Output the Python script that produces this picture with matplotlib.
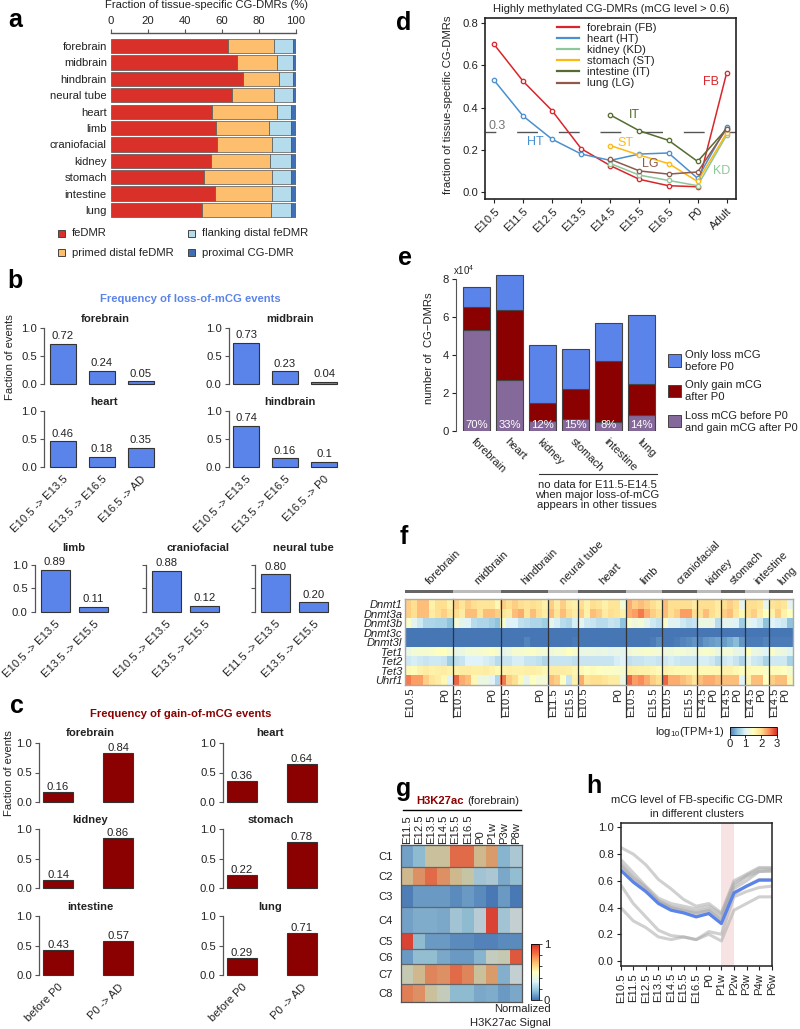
#!/usr/bin/env python3
import numpy as np
import matplotlib
matplotlib.use('Agg')
import matplotlib.pyplot as plt
from matplotlib.cm import ScalarMappable
from matplotlib.colors import LinearSegmentedColormap, Normalize
from matplotlib.patches import Rectangle
from matplotlib.transforms import blended_transform_factory

FS = 8.1
plt.rcParams['font.family'] = ['Liberation Sans', 'DejaVu Sans']
plt.rcParams['font.size'] = FS
plt.rcParams['mathtext.default'] = 'regular'
plt.rcParams['text.color'] = '#222222'
plt.rcParams['axes.labelcolor'] = '#222222'
plt.rcParams['xtick.color'] = '#222222'
plt.rcParams['ytick.color'] = '#222222'

W, H = 800, 1029
BLUE = '#5b84ea'
DARKRED = '#8b0000'
SPINE = '#555555'

# ---- panel a
a_tissues = ['forebrain', 'midbrain', 'hindbrain', 'neural tube', 'heart', 'limb',
             'craniofacial', 'kidney', 'stomach', 'intestine', 'lung']
a_fedmr = [63.3, 68.5, 71.8, 65.5, 54.8, 56.8, 57.3, 54.0, 50.5, 56.2, 49.4]
a_primed = [25.1, 21.4, 19.0, 23.1, 35.4, 29.1, 30.0, 32.3, 36.8, 31.3, 37.4]
a_flank = [10.0, 8.5, 7.6, 9.8, 7.3, 11.7, 10.5, 11.0, 10.2, 9.8, 10.5]
a_prox = [1.6, 1.6, 1.6, 1.6, 2.5, 2.4, 2.2, 2.7, 2.5, 2.7, 2.7]

# ---- panel b
b_fb = ['0.72', '0.24', '0.05']
b_mb = ['0.73', '0.23', '0.04']
b_ht = ['0.46', '0.18', '0.35']
b_hb = ['0.74', '0.16', '0.1']
b_limb = ['0.89', '0.11']
b_cf = ['0.88', '0.12']
b_nt = ['0.80', '0.20']
b_ht_ticks = ['E10.5 -> E13.5', 'E13.5 -> E16.5', 'E16.5 -> AD']
b_hb_ticks = ['E10.5 -> E13.5', 'E13.5 -> E16.5', 'E16.5 -> P0']
b_limb_ticks = ['E10.5 -> E13.5', 'E13.5 -> E15.5']
b_nt_ticks = ['E11.5 -> E13.5', 'E13.5 -> E15.5']

# ---- panel c
c_fb = ['0.16', '0.84']
c_ht = ['0.36', '0.64']
c_kd = ['0.14', '0.86']
c_st = ['0.22', '0.78']
c_it = ['0.43', '0.57']
c_lg = ['0.29', '0.71']
c_ticks = ['before P0', 'P0 -> AD']

# ---- panel d
d_stages = ['E10.5', 'E11.5', 'E12.5', 'E13.5', 'E14.5', 'E15.5', 'E16.5', 'P0', 'Adult']
d_idx_all = [0, 1, 2, 3, 4, 5, 6, 7, 8]
d_idx_late = [4, 5, 6, 7, 8]
d_fb = [0.70, 0.525, 0.385, 0.205, 0.125, 0.06, 0.03, 0.025, 0.565]
d_ht = [0.53, 0.36, 0.25, 0.18, 0.15, 0.18, 0.185, 0.065, 0.31]
d_kd = [0.135, 0.08, 0.055, 0.03, 0.27]
d_st = [0.22, 0.175, 0.135, 0.05, 0.28]
d_it = [0.365, 0.29, 0.245, 0.145, 0.30]
d_lg = [0.155, 0.10, 0.085, 0.095, 0.30]

# ---- panel e
e_tissues = ['forebrain', 'heart', 'kidney', 'stomach', 'intestine', 'lung']
e_both = [5.3, 2.7, 0.55, 0.65, 0.47, 0.85]
e_gain = [1.25, 3.7, 0.95, 1.55, 3.2, 1.62]
e_loss = [1.03, 1.85, 3.05, 2.15, 2.0, 3.63]
e_pct = ['70%', '33%', '12%', '15%', '8%', '14%']

# ---- panel f
f_genes = ['Dnmt1', 'Dnmt3a', 'Dnmt3b', 'Dnmt3c', 'Dnmt3l', 'Tet1', 'Tet2', 'Tet3', 'Uhrf1']
f_groups = ['forebrain', 'midbrain', 'hindbrain', 'neural tube', 'heart', 'limb',
            'craniofacial', 'kidney', 'stomach', 'intestine', 'lung']
f_counts = [8, 8, 8, 5, 8, 6, 6, 4, 4, 4, 4]
f_first = ['E10.5', 'E10.5', 'E10.5', 'E11.5', 'E10.5', 'E10.5', 'E10.5', 'E14.5', 'E14.5', 'E14.5', 'E14.5']
f_last = ['P0', 'P0', 'P0', 'E15.5', 'P0', 'E15.5', 'E15.5', 'P0', 'P0', 'P0', 'P0']
dnmt1 = [2.1, 2.0, 2.2, 2.2, 1.7, 2.0, 2.0, 1.7, 2.1, 1.9, 2.1, 2.0, 1.9, 1.9, 1.9, 1.6,
         2.1, 2.0, 2.1, 2.0, 1.9, 2.0, 1.9, 1.7, 2.1, 1.8, 2.1, 1.8, 1.7,
         2.0, 1.7, 2.0, 1.9, 1.7, 1.9, 1.9, 1.3, 2.3, 2.1, 2.2, 2.1, 2.0, 1.8,
         2.2, 2.0, 2.0, 2.0, 2.0, 1.8, 2.0, 2.0, 2.0, 1.8, 2.0, 2.1, 2.0, 1.1,
         2.0, 2.0, 1.9, 1.1, 1.9, 2.0, 1.9, 1.1]
dnmt3a = [2.1, 2.0, 2.2, 2.2, 1.8, 2.0, 2.1, 1.9, 2.0, 1.8, 2.2, 2.2, 1.9, 2.2, 2.2, 2.1,
          1.9, 1.8, 2.2, 2.3, 1.9, 2.2, 2.0, 1.8, 2.2, 1.9, 2.2, 2.0, 1.8,
          2.1, 1.7, 2.2, 2.1, 1.8, 2.0, 1.9, 1.7, 2.3, 2.4, 2.6, 2.3, 2.1, 2.0,
          2.2, 2.0, 2.1, 2.4, 2.4, 2.0, 2.0, 2.2, 2.0, 1.8, 2.1, 2.2, 1.9, 1.6,
          2.0, 2.1, 1.8, 1.5, 1.7, 2.1, 1.7, 1.5]
dnmt3b = [1.4, 1.1, 0.9, 0.7, 0.7, 0.65, 0.65, 0.5, 1.3, 1.1, 1.0, 0.75, 0.7, 0.7, 0.6, 0.5,
          1.4, 1.0, 1.0, 0.8, 0.75, 0.7, 0.7, 0.6, 1.1, 0.95, 0.75, 0.7, 0.95,
          1.1, 0.9, 0.85, 0.75, 0.75, 0.85, 0.8, 0.5, 1.4, 1.25, 1.3, 1.1, 0.9, 0.8,
          1.4, 1.05, 1.05, 0.9, 0.8, 0.85, 1.2, 1.2, 1.15, 0.75, 1.1, 1.1, 1.0, 0.6,
          1.1, 1.0, 0.9, 0.5, 1.0, 0.95, 0.9, 0.5]
dnmt3c = [0.02, 0.02, 0.02, 0.02, 0.02, 0.02, 0.02, 0.02, 0.02, 0.02, 0.02, 0.02, 0.02, 0.02, 0.02, 0.02,
          0.02, 0.02, 0.02, 0.02, 0.02, 0.02, 0.02, 0.02, 0.02, 0.02, 0.02, 0.02, 0.02,
          0.02, 0.02, 0.02, 0.02, 0.02, 0.02, 0.02, 0.02, 0.02, 0.02, 0.02, 0.02, 0.02, 0.02,
          0.02, 0.02, 0.02, 0.02, 0.02, 0.02, 0.02, 0.02, 0.02, 0.02, 0.02, 0.02, 0.02, 0.02,
          0.02, 0.02, 0.02, 0.02, 0.02, 0.02, 0.02, 0.02]
dnmt3l = [0.02, 0.02, 0.02, 0.02, 0.02, 0.02, 0.02, 0.02, 0.02, 0.02, 0.02, 0.02, 0.02, 0.02, 0.02, 0.02,
          0.02, 0.02, 0.02, 0.02, 0.1, 0.02, 0.02, 0.02, 0.02, 0.02, 0.02, 0.02, 0.05,
          0.02, 0.02, 0.02, 0.02, 0.02, 0.02, 0.02, 0.02, 0.02, 0.02, 0.02, 0.02, 0.05, 0.15,
          0.02, 0.02, 0.05, 0.1, 0.15, 0.2, 0.1, 0.2, 0.25, 0.3, 0.25, 0.35, 0.45, 0.2,
          0.05, 0.05, 0.05, 0.1, 0.05, 0.05, 0.05, 0.05]
tet1 = [1.2, 1.3, 1.35, 1.35, 1.4, 1.5, 1.5, 1.35, 1.15, 1.2, 1.3, 1.3, 1.35, 1.4, 1.45, 1.35,
        1.1, 1.2, 1.35, 1.35, 1.4, 1.45, 1.35, 1.3, 1.25, 1.3, 1.35, 1.5, 1.4,
        1.15, 1.2, 1.2, 1.15, 1.2, 1.1, 1.15, 1.1, 1.25, 1.3, 1.35, 1.4, 1.35, 1.3,
        1.25, 1.25, 1.3, 1.3, 1.25, 1.2, 1.35, 1.4, 1.35, 1.2, 1.3, 1.3, 1.15, 1.1,
        1.5, 1.2, 1.15, 1.0, 1.4, 1.25, 1.2, 1.05]
tet2 = [0.9, 0.95, 0.9, 0.85, 0.9, 0.9, 0.85, 0.6, 0.8, 0.85, 1.0, 1.0, 1.0, 0.95, 0.9, 0.75,
        0.85, 0.85, 0.95, 0.95, 0.85, 0.85, 0.8, 0.7, 0.85, 0.85, 0.85, 0.85, 0.8,
        0.85, 0.85, 0.85, 0.85, 0.85, 0.85, 0.95, 1.0, 0.8, 0.85, 0.85, 0.9, 0.9, 0.85,
        0.9, 0.95, 0.9, 0.85, 0.85, 0.85, 0.95, 0.95, 0.9, 0.75, 0.9, 0.95, 0.85, 0.7,
        1.1, 0.9, 0.85, 0.65, 0.9, 0.9, 0.9, 0.65]
tet3 = [1.6, 1.55, 1.7, 1.8, 1.7, 1.75, 1.8, 1.7, 1.75, 1.8, 1.8, 1.75, 1.75, 1.8, 1.7, 1.6,
        1.7, 1.75, 1.7, 1.7, 1.75, 1.75, 1.7, 1.6, 1.8, 1.8, 1.8, 1.75, 1.65,
        1.6, 1.5, 1.55, 1.5, 1.45, 1.45, 1.4, 1.35, 1.8, 1.75, 1.7, 1.7, 1.65, 1.55,
        1.7, 1.65, 1.6, 1.6, 1.6, 1.6, 1.6, 1.6, 1.6, 1.6, 1.7, 1.7, 1.6, 1.5,
        1.6, 1.55, 1.55, 1.4, 1.55, 1.55, 1.5, 1.35]
uhrf1 = [2.6, 2.4, 2.4, 2.1, 1.9, 1.8, 1.6, 1.0, 2.7, 2.3, 2.2, 1.6, 1.2, 1.2, 1.0, 0.7,
         2.6, 2.1, 2.0, 1.6, 1.1, 1.5, 1.3, 1.3, 2.2, 2.1, 1.5, 0.85, 1.7,
         2.3, 1.9, 2.0, 2.0, 1.9, 1.8, 1.8, 1.2, 2.7, 2.4, 2.5, 2.3, 2.1, 2.0,
         2.7, 2.3, 2.3, 2.2, 2.1, 1.9, 2.2, 2.3, 2.3, 2.2, 2.2, 2.2, 2.2, 1.0,
         1.7, 2.2, 2.2, 1.5, 2.1, 2.2, 2.2, 1.6]

# ---- panel g
g_stages = ['E11.5', 'E12.5', 'E13.5', 'E14.5', 'E15.5', 'E16.5', 'P0', 'P1w', 'P3w', 'P8w']
g_clusters = ['C1', 'C2', 'C3', 'C4', 'C5', 'C6', 'C7', 'C8']
g_sizes = [22, 18, 22, 26, 16, 15, 20, 18]
g_c1 = [0.10, 0.17, 0.55, 0.55, 0.85, 0.85, 0.6, 0.72, 0.15, 0.25]
g_c2 = [0.6, 0.75, 0.85, 0.75, 0.6, 0.5, 0.22, 0.25, 0.12, 0.18]
g_c3 = [0.02, 0.08, 0.08, 0.08, 0.05, 0.08, 0.05, 0.01, 0.08, 0.01]
g_c4 = [0.10, 0.13, 0.13, 0.12, 0.22, 0.17, 0.3, 0.95, 0.22, 0.35]
g_c5 = [0.95, 0.17, 0.08, 0.08, 0.05, 0.05, 0.03, 0.03, 0.05, 0.05]
g_c6 = [0.08, 0.18, 0.18, 0.12, 0.08, 0.08, 0.15, 0.4, 0.45, 0.9]
g_c7 = [0.45, 0.6, 0.78, 0.75, 0.85, 0.78, 0.55, 0.72, 0.14, 0.35]
g_c8 = [0.8, 0.75, 0.55, 0.42, 0.17, 0.17, 0.12, 0.13, 0.08, 0.12]

# ---- panel h
h_stages = ['E10.5', 'E11.5', 'E12.5', 'E13.5', 'E14.5', 'E15.5', 'E16.5', 'P0',
            'P1w', 'P2w', 'P3w', 'P4w', 'P6w']
h_g1 = [0.85, 0.80, 0.72, 0.61, 0.54, 0.46, 0.41, 0.43, 0.36, 0.60, 0.65, 0.70, 0.70]
h_g2 = [0.76, 0.66, 0.56, 0.47, 0.43, 0.41, 0.39, 0.41, 0.35, 0.58, 0.64, 0.69, 0.69]
h_g3 = [0.73, 0.63, 0.55, 0.45, 0.41, 0.39, 0.37, 0.39, 0.33, 0.56, 0.63, 0.67, 0.68]
h_g4 = [0.72, 0.62, 0.54, 0.45, 0.40, 0.38, 0.36, 0.38, 0.31, 0.54, 0.60, 0.67, 0.67]
h_g5 = [0.57, 0.43, 0.33, 0.23, 0.19, 0.18, 0.16, 0.22, 0.20, 0.48, 0.52, 0.55, 0.56]
h_g6 = [0.40, 0.30, 0.25, 0.18, 0.16, 0.18, 0.16, 0.20, 0.15, 0.38, 0.43, 0.48, 0.48]
h_g7 = [0.70, 0.60, 0.52, 0.44, 0.40, 0.37, 0.35, 0.37, 0.30, 0.50, 0.56, 0.61, 0.61]
h_avg = [0.68, 0.59, 0.52, 0.43, 0.38, 0.36, 0.33, 0.355, 0.28, 0.51, 0.56, 0.605, 0.605]

fig = plt.figure(figsize=(W / 100, H / 100), dpi=100)


def ax_px(x0, y0, x1, y1):
    return fig.add_axes([x0 / W, 1 - y1 / H, (x1 - x0) / W, (y1 - y0) / H])


def txt(x, y, s, **kw):
    kw.setdefault('ha', 'center')
    kw.setdefault('va', 'center')
    return fig.text(x / W, 1 - y / H, s, **kw)


def box(x0, y0, x1, y1, color):
    fig.add_artist(Rectangle((x0 / W, 1 - y1 / H), (x1 - x0) / W, (y1 - y0) / H, facecolor=color,
                             edgecolor='#444444', lw=0.7, transform=fig.transFigure))


def bar_panel(x_axis, c0, step, bw, ytop, ybot, labels, color, ticks=None, pad=2, fs=FS):
    vals = [float(v) for v in labels]
    n = len(vals)
    x1 = c0 + step * (n - 1) + step / 2
    ax = ax_px(x_axis, ytop, x1, ybot)
    ax.set_xlim((x_axis - c0) / step, (x1 - c0) / step)
    ax.set_ylim(0, 1)
    ax.bar(range(n), vals, width=bw / step, color=color, edgecolor='#333333', lw=0.8, clip_on=False)
    for i, v in enumerate(vals):
        ax.annotate(labels[i], (i, v), xytext=(0, pad), textcoords='offset points',
                    ha='center', va='bottom', fontsize=fs, annotation_clip=False)
    for s in ['top', 'right', 'bottom']:
        ax.spines[s].set_visible(False)
    ax.spines['left'].set_color(SPINE)
    ax.spines['left'].set_linewidth(0.9)
    ax.set_yticks([0, 0.5, 1.0], ['0.0', '0.5', '1.0'], fontsize=fs)
    ax.tick_params(axis='y', length=3, width=0.8, color=SPINE, pad=2)
    ax.patch.set_alpha(0)
    if ticks:
        ax.set_xticks(range(n), ticks, rotation=45, ha='right', rotation_mode='anchor', fontsize=FS)
        ax.tick_params(axis='x', length=0, pad=5)
    else:
        ax.set_xticks([])
    return ax


# panel letters
for s, x, y in [('a', 15, 20), ('b', 15, 281), ('c', 17, 706), ('d', 404, 23),
                ('e', 405, 258), ('f', 404, 537), ('g', 404, 789), ('h', 594, 786)]:
    txt(x, y, s, fontsize=18, fontweight='bold', color='black')

# ---- a
ax = ax_px(111, 33, 295.5, 218)
y = np.arange(len(a_tissues))
left = np.zeros(len(y))
for vals, c in zip([a_fedmr, a_primed, a_flank, a_prox], ['#d9302a', '#fdbe6e', '#b5dcec', '#3f6fb5']):
    ax.barh(y, vals, left=left, height=0.87, color=c, edgecolor='#555555', lw=0.5)
    left = left + np.array(vals)
ax.set_xlim(0, 100)
ax.set_ylim(10.49, -0.8)
ax.set_yticks(y, a_tissues)
ax.tick_params(axis='y', length=0, pad=3)
ax.xaxis.tick_top()
ax.set_xticks([0, 20, 40, 60, 80, 100])
ax.tick_params(axis='x', length=3, width=0.8, color=SPINE, pad=2)
for s in ['left', 'right', 'bottom']:
    ax.spines[s].set_visible(False)
ax.spines['top'].set_color(SPINE)
ax.spines['top'].set_linewidth(1.0)
txt(207, 5, 'Fraction of tissue-specific CG-DMRs (%)')
box(58, 230, 65, 237, '#d9302a')
box(58, 249, 65, 256, '#fdbe6e')
box(188, 230, 195, 237, '#b5dcec')
box(188, 249, 195, 256, '#3f6fb5')
txt(72, 233.5, 'feDMR', ha='left')
txt(72, 252.5, 'primed distal feDMR', ha='left')
txt(202, 233.5, 'flanking distal feDMR', ha='left')
txt(202, 252.5, 'proximal CG-DMR', ha='left')

# ---- b
txt(190, 299, 'Frequency of loss-of-mCG events', color=BLUE, fontweight='bold')
bar_panel(44, 62.7, 39, 26, 327.7, 384.3, b_fb, BLUE)
bar_panel(228.7, 246, 39, 26, 327.7, 384.3, b_mb, BLUE)
bar_panel(44, 62.7, 39, 26, 411, 467.3, b_ht, BLUE, b_ht_ticks)
bar_panel(228.7, 246, 39, 26, 411, 467.3, b_hb, BLUE, b_hb_ticks)
bar_panel(34.7, 55, 38.5, 29, 565, 611.7, b_limb, BLUE, b_limb_ticks)
ax = bar_panel(146, 166.3, 38.5, 29, 565, 611.7, b_cf, BLUE, b_limb_ticks)
ax.set_yticklabels([])
ax = bar_panel(255, 275.3, 38.5, 29, 565, 611.7, b_nt, BLUE, b_nt_ticks)
ax.set_yticklabels([])
for s, x, yy in [('forebrain', 105, 319), ('midbrain', 290, 319), ('heart', 104, 402),
                 ('hindbrain', 290, 402), ('limb', 74, 548), ('craniofacial', 198, 548),
                 ('neural tube', 303, 548), ('forebrain', 90, 733), ('heart', 270, 733),
                 ('kidney', 90, 820), ('stomach', 271, 820), ('intestine', 90, 907), ('lung', 270, 907)]:
    txt(x, yy, s, fontweight='bold')
txt(10, 357, 'Faction of events', rotation=90)

# ---- c
txt(181, 714, 'Frequency of gain-of-mCG events', color=DARKRED, fontweight='bold')
bar_panel(39.3, 58, 60, 30, 743.3, 801.7, c_fb, DARKRED, pad=0)
bar_panel(222.7, 241.7, 60, 30, 743.3, 801.7, c_ht, DARKRED, pad=0)
bar_panel(39.3, 58, 60, 30, 829.3, 888.3, c_kd, DARKRED, pad=0)
bar_panel(222.7, 241.7, 60, 30, 829.3, 888.3, c_st, DARKRED, pad=0)
bar_panel(39.3, 58, 60, 30, 916, 975, c_it, DARKRED, c_ticks, pad=0)
bar_panel(222.7, 241.7, 60, 30, 916, 975, c_lg, DARKRED, c_ticks, pad=0)
txt(9, 773, 'Faction of events', rotation=90)

# ---- d
ax = ax_px(485, 17.7, 736, 199)
ax.set_xlim(-0.31, 8.32)
ax.set_ylim(-0.033, 0.826)
ax.axhline(0.285, color='#555555', lw=1.0, linestyle=(7.2, (15, 15)))
series = [('forebrain (FB)', d_idx_all, d_fb, '#d9252b'), ('heart (HT)', d_idx_all, d_ht, '#4a90d0'),
          ('kidney (KD)', d_idx_late, d_kd, '#8fc79a'), ('stomach (ST)', d_idx_late, d_st, '#fdb913'),
          ('intestine (IT)', d_idx_late, d_it, '#556b2f'), ('lung (LG)', d_idx_late, d_lg, '#8d5a4b')]
for lab, xs, ys, c in series:
    ax.plot(xs, ys, '-', color=c, lw=1.1)
    ax.plot(xs, ys, 'o', mfc='#f4f4f4', mec=c, ms=3.2, mew=0.9)
    ax.plot([], [], '-', color=c, lw=1.6, label=lab)
ax.legend(frameon=False, loc='upper left', bbox_to_anchor=(0.255, 1.015), fontsize=FS, labelspacing=0.1,
          handlelength=1.95, handletextpad=0.75, borderpad=0.2)
ax.set_xticks(d_idx_all, d_stages, rotation=45, ha='right', rotation_mode='anchor')
ax.set_yticks([0, 0.2, 0.4, 0.6, 0.8], ['0.0', '0.2', '0.4', '0.6', '0.8'])
ax.tick_params(length=3, width=0.8, pad=2)
for s in ax.spines.values():
    s.set_linewidth(1.2)
    s.set_color('#222222')
txt(448, 105, 'fraction of tissue-specific CG-DMRs', rotation=90)
txt(611, 9, 'Highly methylated CG-DMRs (mCG level > 0.6)')
for s, x, yy, c in [('0.3', 497, 126, '#777777'), ('HT', 535, 142, '#4a90d0'), ('IT', 634, 115, '#556b2f'),
                    ('ST', 625, 143, '#fdb913'), ('LG', 650, 164, '#8d5a4b'), ('FB', 711, 82, '#d9252b'),
                    ('KD', 722, 171, '#8fc79a')]:
    txt(x, yy, s, color=c, fontsize=9)

# ---- e
ax = ax_px(456, 271.7, 660, 431)
xe = np.arange(len(e_tissues))
bw = 27.3 / 33
ax.bar(xe, e_both, width=bw, color='#86699b', edgecolor='#444444', lw=0.8)
ax.bar(xe, e_gain, width=bw, bottom=e_both, color=DARKRED, edgecolor='#444444', lw=0.8)
ax.bar(xe, e_loss, width=bw, bottom=np.add(e_both, e_gain), color=BLUE, edgecolor='#444444', lw=0.8)
for i, p in enumerate(e_pct):
    ax.text(i, 0.03, p, color='white', ha='center', va='bottom', fontsize=FS)
ax.set_xlim(-0.627, 5.55)
ax.set_ylim(0, 8.4)
ax.set_yticks([0, 2, 4, 6, 8])
ax.set_xticks(xe, e_tissues, rotation=-45, ha='left', rotation_mode='anchor')
ax.tick_params(axis='x', length=0, pad=4)
ax.tick_params(axis='y', length=3, width=0.8, pad=2)
for s in ['top', 'right', 'bottom']:
    ax.spines[s].set_visible(False)
ax.spines['left'].set_bounds(0, 8)
ax.spines['left'].set_color(SPINE)
txt(429, 348, 'number of  CG\u2212DMRs', rotation=90)
txt(453, 270, 'x10$^{4}$', ha='left', fontsize=7)
fig.add_artist(plt.Line2D([539 / W, 656.7 / W], [1 - 474.3 / H, 1 - 474.3 / H], color='#333333', lw=0.8))
txt(597, 495, 'no data for E11.5-E14.5\nwhen major loss-of-mCG\nappears in other tissues', linespacing=1.0)
box(668, 354, 681, 367, BLUE)
box(668, 385, 681, 397, DARKRED)
box(668, 415, 681, 427, '#86699b')
txt(685, 361, 'Only loss mCG\nbefore P0', ha='left', linespacing=1.15)
txt(685, 391, 'Only gain mCG\nafter P0', ha='left', linespacing=1.15)
txt(685, 422, 'Loss mCG before P0\nand gain mCG after P0', ha='left', linespacing=1.15, fontsize=7.9)

# ---- f
cmap_f = LinearSegmentedColormap.from_list('tpm', ['#4575b4', '#91c5de', '#e0f3f8', '#ffffbf', '#fee090', '#fc8d59', '#d73027'])
f_mat = np.array([dnmt1, dnmt3a, dnmt3b, dnmt3c, dnmt3l, tet1, tet2, tet3, uhrf1])
ax = ax_px(405.3, 599.3, 792.7, 685)
im = ax.imshow(f_mat, cmap=cmap_f, vmin=0, vmax=3, aspect='auto', interpolation='nearest')
ends = np.cumsum(f_counts)
starts = ends - np.array(f_counts)
for e in ends[:-1]:
    ax.axvline(e - 0.5, ymin=-0.37, ymax=1, color='#333333', lw=0.9, clip_on=False)
tick_pos = []
tick_lab = []
for st, en, a, b in zip(starts, ends, f_first, f_last):
    tick_pos += [st + 0.38, en - 1.85]
    tick_lab += [a, b]
ax.set_xticks(tick_pos, tick_lab, rotation=90)
ax.tick_params(axis='x', length=0, pad=2)
ax.set_yticks(range(len(f_genes)), f_genes, style='italic', fontsize=8)
ax.tick_params(axis='y', length=0, pad=2)
for s in ax.spines.values():
    s.set_color('#aaaaaa')
    s.set_linewidth(1.0)
strip = ax_px(405.3, 589.5, 792.7, 592.5)
strip.bar(starts, [1] * len(starts), width=f_counts, align='edge',
          color=['#666666' if i % 2 == 0 else '#bbbbbb' for i in range(len(starts))])
strip.set_xlim(0, ends[-1])
strip.set_ylim(0, 1)
strip.axis('off')
for st, en, g in zip(starts, ends, f_groups):
    strip.text((st + en) / 2 + 0.4, 1.9, g, rotation=45, ha='left', va='bottom', rotation_mode='anchor',
               transform=blended_transform_factory(strip.transData, strip.transAxes))
cax = ax_px(729.5, 727, 777, 734.5)
cb = fig.colorbar(im, cax=cax, orientation='horizontal')
cb.set_ticks([0, 1, 2, 3])
cb.ax.tick_params(length=2, width=0.7, pad=1.5)
cb.outline.set_linewidth(0.6)
txt(725, 732, 'log$_{10}$(TPM+1)', ha='right')

# ---- g
cmap_g = LinearSegmentedColormap.from_list('sig', ['#4575b4', '#91c5de', '#e0f3f8', '#ffffbf', '#fdc070', '#f46d43', '#d73027'])
g_mat = np.array([g_c1, g_c2, g_c3, g_c4, g_c5, g_c6, g_c7, g_c8])
g_edges = np.concatenate([[0], np.cumsum(g_sizes)])
ax = ax_px(401, 845, 522.3, 1002.3)
ax.set_facecolor('#7f8088')
ax.pcolormesh(np.arange(len(g_stages) + 1), g_edges, g_mat, cmap=cmap_g, vmin=0, vmax=1,
              alpha=0.55 + 0.45 * np.abs(2 * g_mat - 1))
ax.set_ylim(g_edges[-1], 0)
for e in g_edges[1:-1]:
    ax.axhline(e, color='#666666', lw=0.9)
ax.xaxis.tick_top()
ax.set_xticks(np.arange(len(g_stages)) + 0.5, g_stages, rotation=90)
ax.tick_params(axis='x', length=0, pad=1)
ax.set_yticks((g_edges[:-1] + g_edges[1:]) / 2, g_clusters)
ax.tick_params(axis='y', length=0, pad=6)
for s in ax.spines.values():
    s.set_color('#555555')
    s.set_linewidth(0.9)
fig.add_artist(plt.Line2D([403 / W, 521 / W], [1 - 810 / H, 1 - 810 / H], color='black', lw=1.0))
txt(416, 801, 'H3K27ac', ha='left', color=DARKRED, fontweight='bold')
txt(467, 801, '(forebrain)', ha='left')
cax = ax_px(531, 944, 539, 1000)
cb = fig.colorbar(ScalarMappable(Normalize(0, 1), cmap_g), cax=cax)
cb.set_ticks([0, 1])
cb.set_ticks([0.2, 0.4, 0.6, 0.8], minor=True)
cb.ax.tick_params(which='both', length=2, width=0.6, pad=1.5)
cb.outline.set_linewidth(0.6)
txt(551, 1009, 'Normalized', ha='right')
txt(551, 1023, 'H3K27ac Signal', ha='right')

# ---- h
ax = ax_px(620.7, 822.7, 771.7, 966)
xh = np.arange(len(h_stages))
ax.axvspan(8, 9, color='#f7e3e3', lw=0)
for g in [h_g1, h_g2, h_g3, h_g4, h_g5, h_g6, h_g7]:
    ax.plot(xh, g, color='#aaaaaa', lw=2.2, alpha=0.55, solid_capstyle='butt')
ax.plot(xh, h_avg, color=BLUE, lw=2.3, solid_capstyle='butt')
ax.set_xlim(0, 12)
ax.set_ylim(-0.0375, 1.035)
ax.set_xticks(xh, h_stages, rotation=90)
ax.set_yticks([0, 0.2, 0.4, 0.6, 0.8, 1.0], ['0.0', '0.2', '0.4', '0.6', '0.8', '1.0'])
ax.tick_params(length=3, width=0.8, pad=2)
for s in ax.spines.values():
    s.set_linewidth(1.1)
    s.set_color('#222222')
txt(697, 800, 'mCG level of FB-specific CG-DMR', fontsize=8)
txt(697, 814, 'in different clusters', fontsize=8)

fig.savefig('out.png', dpi=100)
